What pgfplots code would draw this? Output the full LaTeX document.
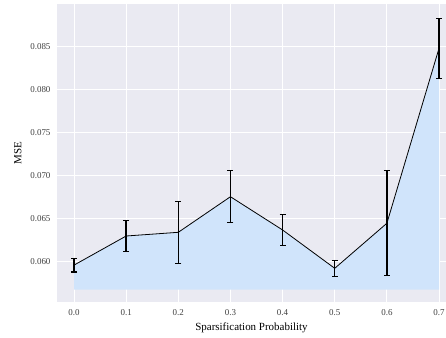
\documentclass[border=0pt]{standalone}
\usepackage{pgfplots}
\pgfplotsset{compat=1.18}
\usepackage{fontspec}
\setmainfont{Liberation Serif}
\definecolor{bgc}{RGB}{234,234,242}
\definecolor{fillc}{RGB}{208,228,251}
\begin{document}
\begin{tikzpicture}[x=1bp,y=1bp]
\path[use as bounding box] (0,0) rectangle (446,337);
\begin{axis}[
  at={(57bp,35bp)}, anchor=south west,
  scale only axis, width=389bp, height=297.5bp,
  xmin=-0.0326, xmax=0.7134, ymin=0.05532, ymax=0.08985,
  scaled y ticks=false, scaled x ticks=false,
  axis background/.style={fill=bgc},
  axis line style={draw=none},
  major tick length=0pt,
  grid=major, grid style={white, line width=0.9bp},
  xtick={0,0.1,0.2,0.3,0.4,0.5,0.6,0.7},
  xticklabels={0.0,0.1,0.2,0.3,0.4,0.5,0.6,0.7},
  ytick={0.060,0.065,0.070,0.075,0.080,0.085},
  yticklabels={0.060,0.065,0.070,0.075,0.080,0.085},
  /pgf/number format/assume math mode=true,
  tick label style={font=\fontsize{9}{11}\selectfont, text=black!75},
  xticklabel style={yshift=-4bp},
  yticklabel style={xshift=-3bp},
  label style={font=\fontsize{11}{13}\selectfont},
  xlabel={Sparsification Probability},
  ylabel={MSE},
  xlabel style={yshift=0bp},
  ylabel style={yshift=2bp},
  clip=true,
]
\addplot[fill=fillc, draw=none] coordinates {
 (0,0.05675) (0.0,0.0596) (0.1,0.06298) (0.2,0.06341) (0.3,0.06754)
 (0.4,0.06368) (0.5,0.05923) (0.6,0.06446) (0.7,0.08477) (0.7,0.05675)};
\addplot[black, line width=0.8bp, mark=none,
  error bars/.cd, y dir=both, y explicit,
  error bar style={line width=1.4bp, black},
  error mark options={rotate=90, mark size=3bp, line width=1.1bp, black}]
 coordinates {
 (0.0,0.0596) +- (0,0.0008)
 (0.1,0.06298) +- (0,0.0018)
 (0.2,0.06341) +- (0,0.0036)
 (0.3,0.06754) +- (0,0.0030)
 (0.4,0.06368) +- (0,0.0018)
 (0.5,0.05923) +- (0,0.0009)
 (0.6,0.06446) +- (0,0.0061)
 (0.7,0.08477) +- (0,0.0035)
};
\end{axis}
\end{tikzpicture}
\end{document}
